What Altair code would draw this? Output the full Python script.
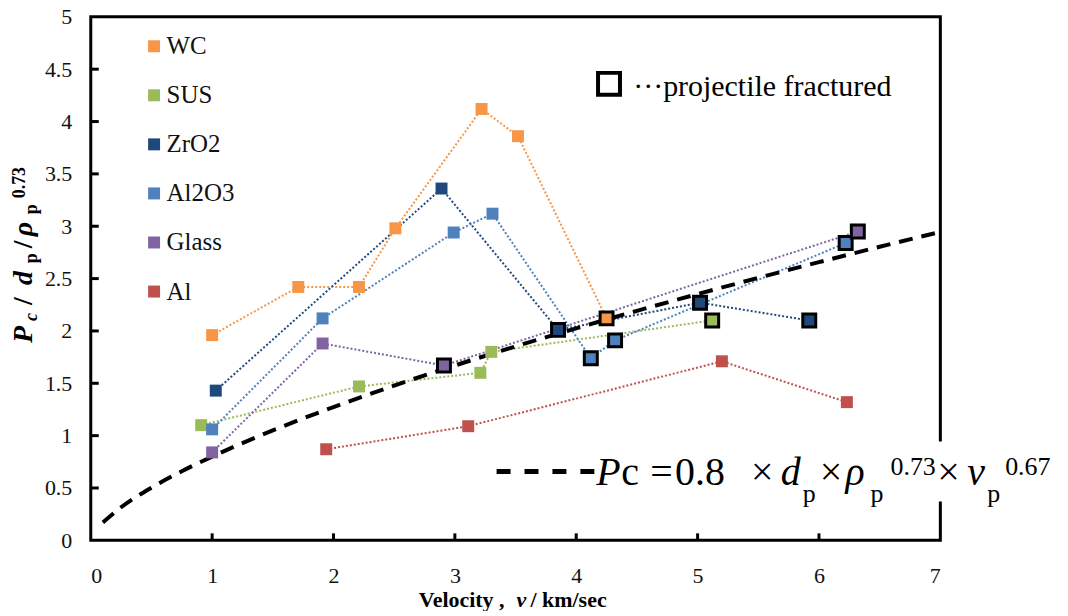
import altair as alt
import pandas as pd

SERIF = "Liberation Serif"

series_names = ["WC", "SUS", "ZrO2", "Al2O3", "Glass", "Al"]
series_colors = ["#F79646", "#9BBB59", "#1F497D", "#4F81BD", "#8064A2", "#C0504D"]

wc_v = [1.0, 1.71, 2.21, 2.51, 3.22, 3.52, 4.25]
wc_y = [1.96, 2.42, 2.42, 2.98, 4.12, 3.86, 2.12]
wc_f = [0, 0, 0, 0, 0, 0, 1]

sus_v = [0.91, 2.21, 3.21, 3.30, 5.12]
sus_y = [1.10, 1.47, 1.60, 1.80, 2.10]
sus_f = [0, 0, 0, 0, 1]

zro2_v = [1.03, 2.89, 3.85, 5.02, 5.92]
zro2_y = [1.43, 3.36, 2.01, 2.27, 2.10]
zro2_f = [0, 0, 1, 1, 1]

al2o3_v = [1.0, 1.91, 2.99, 3.31, 4.12, 4.32, 6.22]
al2o3_y = [1.06, 2.12, 2.94, 3.12, 1.74, 1.91, 2.84]
al2o3_f = [0, 0, 0, 0, 1, 1, 1]

glass_v = [1.0, 1.91, 2.91, 6.32]
glass_y = [0.84, 1.88, 1.67, 2.95]
glass_f = [0, 0, 1, 1]

al_v = [1.94, 3.11, 5.20, 6.23]
al_y = [0.87, 1.09, 1.71, 1.32]
al_f = [0, 0, 0, 0]

# dashed fit curve Pc = 0.8 x dp x rho^0.73 x v^0.67 (normalised)
fit_v = [0.1, 0.25, 0.5, 0.75, 1.0, 1.5, 2.0, 2.5, 3.0, 3.5, 4.0, 4.5, 5.0, 5.5, 6.0, 6.5, 7.0]
fit_y = [0.171, 0.316, 0.503, 0.660, 0.800, 1.050, 1.273, 1.478, 1.670, 1.852, 2.025,
         2.192, 2.352, 2.507, 2.657, 2.804, 2.946]

x_ticks = [0, 1, 2, 3, 4, 5, 6, 7]
y_ticks = [0, 0.5, 1, 1.5, 2, 2.5, 3, 3.5, 4, 4.5, 5]
x_inner_ticks = [1, 2, 3, 4, 5, 6]
y_inner_ticks = [0.5, 1, 1.5, 2, 2.5, 3, 3.5, 4, 4.5]

legend_marker_v = [4.27]
legend_marker_y = [4.36]

W, H = 852, 525

rows = []
for name, vs, ys, fs in [("WC", wc_v, wc_y, wc_f), ("SUS", sus_v, sus_y, sus_f),
                         ("ZrO2", zro2_v, zro2_y, zro2_f), ("Al2O3", al2o3_v, al2o3_y, al2o3_f),
                         ("Glass", glass_v, glass_y, glass_f), ("Al", al_v, al_y, al_f)]:
    for i, (v, y, f) in enumerate(zip(vs, ys, fs)):
        rows.append({"series": name, "v": v, "y": y, "fractured": f, "idx": i})
df = pd.DataFrame(rows)
fit_df = pd.DataFrame({"v": fit_v, "y": fit_y})

xs = alt.Scale(domain=[0, 7], nice=False)
ys_ = alt.Scale(domain=[0, 5], nice=False)
cscale = alt.Scale(domain=series_names, range=series_colors)

x_axis = alt.Axis(values=x_ticks, format="d", title=None, grid=False, domain=False,
                  ticks=False, tickSize=0, labelFont=SERIF, labelFontSize=22,
                  labelFontWeight=400, labelColor="#111", labelPadding=25)
y_axis = alt.Axis(values=y_ticks, format="~g", title=None, grid=False, domain=False,
                  ticks=False, tickSize=0, labelFont=SERIF, labelFontSize=22,
                  labelFontWeight=400, labelColor="#111", labelPadding=19)
legend = alt.Legend(title=None, orient="none", legendX=51, legendY=17,
                    symbolType="square", symbolSize=144, symbolStrokeWidth=0,
                    symbolOpacity=1, labelFont=SERIF, labelFontSize=25,
                    labelFontWeight=400, labelColor="#111", labelOffset=0,
                    rowPadding=23.2, padding=0)


def X(field):
    return alt.X(field, scale=xs, axis=x_axis)


def Y(field):
    return alt.Y(field, scale=ys_, axis=y_axis)


def C():
    return alt.Color("series:N", scale=cscale, legend=legend)


base = alt.Chart(df)

lines = base.mark_line(strokeWidth=2, strokeDash=[2, 2]).encode(
    x=X("v:Q"), y=Y("y:Q"), color=C(), detail="series:N", order="idx:Q")

fit = alt.Chart(fit_df).mark_line(color="black", strokeWidth=4, strokeDash=[14, 9],
                                  interpolate="monotone").encode(x=X("v:Q"), y=Y("y:Q"))

points = base.mark_point(shape="square", filled=True, size=144, opacity=1).encode(
    x=X("v:Q"), y=Y("y:Q"), color=C())

frac = base.transform_filter("datum.fractured == 1").mark_point(
    shape="square", filled=True, size=169, opacity=1, stroke="black", strokeWidth=3).encode(
    x=X("v:Q"), y=Y("y:Q"), color=C())

yt = alt.Chart(pd.DataFrame({"y": y_inner_ticks})).mark_rule(color="black", strokeWidth=3).encode(
    y=Y("y:Q"), x=alt.value(0), x2=alt.value(8))
xt = alt.Chart(pd.DataFrame({"v": x_inner_ticks})).mark_rule(color="black", strokeWidth=3).encode(
    x=X("v:Q"), y=alt.value(H), y2=alt.value(H - 7))

marker = alt.Chart(pd.DataFrame({"v": legend_marker_v, "y": legend_marker_y})).mark_point(
    shape="square", filled=False, size=484, stroke="black", strokeWidth=4, opacity=1).encode(
    x=X("v:Q"), y=Y("y:Q"))

one = pd.DataFrame({"a": [0]})


def txt(s, x, y, size, style="normal", weight=400, angle=0):
    return alt.Chart(one).mark_text(
        text=s, font=SERIF, fontSize=size, fontStyle=style, fontWeight=weight,
        align="left", baseline="alphabetic", angle=angle, color="black"
    ).encode(x=alt.value(x), y=alt.value(y))


box = alt.Chart(one).mark_rect(fill="white").encode(
    x=alt.value(429), x2=alt.value(975), y=alt.value(426), y2=alt.value(486))
dash_sample = alt.Chart(one).mark_rule(color="black", strokeWidth=5, strokeDash=[14, 14]).encode(
    x=alt.value(407), x2=alt.value(506), y=alt.value(456))

texts = [
    txt("\u00b7\u00b7\u00b7", 544, 79, 30),
    txt("projectile fractured", 574, 79, 30),
    # formula
    txt("P", 507, 470, 40, style="italic"),
    txt("c", 532, 470, 40),
    txt("=", 561, 470, 40),
    txt("0.8", 586, 470, 40),
    txt("\u00d7", 662, 470, 40),
    txt("d", 692, 470, 40, style="italic"),
    txt("p", 714, 487, 26),
    txt("\u00d7", 731, 470, 40),
    txt("\u03c1", 757, 470, 40, style="italic"),
    txt("p", 782, 487, 26),
    txt("0.73", 802, 459, 26),
    txt("\u00d7", 849, 470, 40),
    txt("v", 879, 470, 40, style="italic"),
    txt("p", 899, 487, 26),
    txt("0.67", 917, 459, 26),
    # x title
    txt("Velocity ,", 329, 592, 22, weight=700),
    txt("v", 427, 592, 22, style="italic", weight=700),
    txt("/ km/sec", 441, 592, 22, weight=700),
    # y title (rotated)
    txt("P", -59, 327, 28, style="italic", weight=700, angle=270),
    txt("c", -54, 305, 18, style="italic", weight=700, angle=270),
    txt("/", -59, 289, 28, weight=700, angle=270),
    txt("d", -59, 269, 28, style="italic", weight=700, angle=270),
    txt("p", -54, 247, 18, weight=700, angle=270),
    txt("/", -59, 232, 28, weight=700, angle=270),
    txt("\u03c1", -59, 220, 28, style="italic", weight=700, angle=270),
    txt("p", -54, 198, 18, weight=700, angle=270),
    txt("0.73", -66, 182, 18, weight=700, angle=270),
]

chart = alt.layer(lines, fit, points, frac, yt, xt, marker, box, dash_sample, *texts).properties(
    width=W, height=H, background="white",
    autosize=alt.AutoSizeParams(type="none"),
    padding={"left": 83, "top": 8, "right": 120, "bottom": 70},
).configure_view(stroke="black", strokeWidth=3)

chart.save("out.html", embed_options={"renderer": "svg", "actions": False})
